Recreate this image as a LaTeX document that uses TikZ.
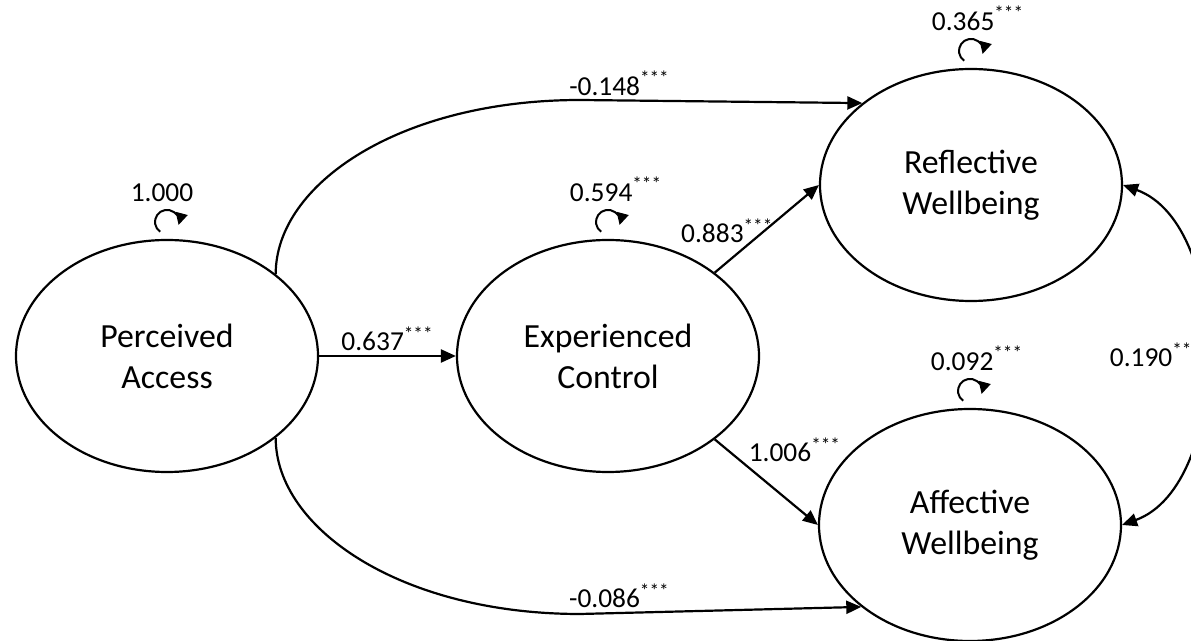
\documentclass[tikz,border=0pt]{standalone}
\usepackage{fontspec}
\setmainfont{Carlito}
\usetikzlibrary{positioning,arrows.meta,shapes.geometric}

\newcommand{\sig}{\textsuperscript{***}}

\begin{document}
\begin{tikzpicture}[
  x=0.5pt,y=-0.5pt,
  >={Triangle[length=7.5pt,width=6.5pt]},
  latent/.style={draw,ellipse,line width=1.1pt,minimum width=151pt,minimum height=116pt,inner sep=0pt,align=center,font=\fontsize{16.9}{20.5}\selectfont},
  path/.style={->,line width=1.1pt},
  coef/.style={font=\fontsize{13.7}{16}\selectfont,inner sep=1pt},
  resid/.style={-{Triangle[length=6pt,width=6pt]},line width=1pt},
]
\useasboundingbox (0,0) rectangle (1191,641);

% latent variables
\node[latent] (pa) at (167,356) {Perceived\\Access};
\node[latent] (ec) at (608,356) {Experienced\\Control};
\node[latent] (rw) at (971,185) {Reflective\\Wellbeing};
\node[latent] (aw) at (970,525) {Affective\\Wellbeing};

% structural paths
\draw[path] (pa) -- node[coef,above=1pt]{0.637\sig} (ec);
\draw[path] (pa.37) .. controls +(0,-90) and +(-180,0) .. (580,100)
  -- node[coef,above=1pt,pos=0.14]{-0.148\sig} (rw.143);
\draw[path] (pa.-37) .. controls +(0,90) and +(-180,0) .. (580,614)
  -- node[coef,above=1pt,pos=0.14]{-0.086\sig} (aw.-143);
\draw[path] (ec.38) -- node[coef,pos=0.12,above=8pt]{0.883\sig} (rw.west);
\draw[path] (ec.-38) -- node[coef,pos=0.3,above right=0pt]{1.006\sig} (aw.west);

% residual covariance
\draw[<->,line width=1.1pt] (rw.east) .. controls +(110,40) and +(110,-40) .. node[coef,pos=0.5,left=0pt]{0.190\sig} (aw.east);

% variances
\foreach \v in {pa,ec,rw,aw} {
  \coordinate (\v-r) at ([yshift=8.5pt]\v.north);
  \draw[resid] (\v-r) ++(235:6pt) arc[start angle=235,end angle=-15,radius=6pt];
}
\node[coef,above=9pt of pa-r,xshift=-2.5pt] (pa-v) {1.000};
\node[coef,above=9pt of ec-r,xshift=4pt] (ec-v) {0.594\sig};
\node[coef,above=9pt of rw-r,xshift=3.5pt] (rw-v) {0.365\sig};
\node[coef,above=9pt of aw-r,xshift=3.5pt] (aw-v) {0.092\sig};
\end{tikzpicture}
\end{document}
